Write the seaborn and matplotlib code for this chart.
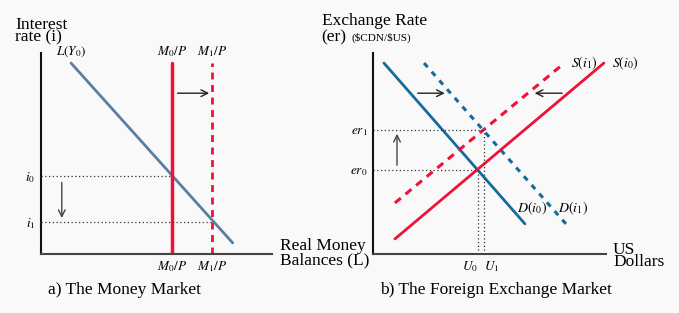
import matplotlib
matplotlib.use("Agg")
import matplotlib.pyplot as plt
import seaborn as sns

# ---------------- data ----------------
# Panel a) money market
L_x = [1.3, 8.3]
L_y = [9.5, 0.55]
M0 = 5.67
M1 = 7.40
i0 = 3.9
i1 = 1.6
money_ticks_x = [M0, M1]
money_ticklabels_x = [r"$M_0/P$", r"$M_1/P$"]
money_ticks_y = [i1, i0]
money_ticklabels_y = [r"$i_1$", r"$i_0$"]

# Panel b) foreign exchange market
D0_x = [0.47, 6.52]
D0_y = [9.5, 1.5]
D1_x = [2.19, 8.28]
D1_y = [9.5, 1.5]
S0_x = [0.94, 9.91]
S0_y = [0.75, 9.5]
S1_x = [0.94, 8.11]
S1_y = [2.54, 9.4]
er0 = 4.18
er1 = 6.17
U0 = 4.51
U1 = 4.76
fx_ticks_x = [U0, U1]
fx_ticklabels_x = [r"$U_0$", r"$U_1$"]
fx_ticks_y = [er0, er1]
fx_ticklabels_y = [r"$er_0$", r"$er_1$"]

# ---------------- style ----------------
sns.set_theme(style="white")
plt.rcParams["font.family"] = ["Liberation Serif", "DejaVu Serif"]
plt.rcParams["mathtext.fontset"] = "stix"
plt.rcParams["text.color"] = "black"
plt.rcParams["xtick.color"] = "black"
plt.rcParams["ytick.color"] = "black"

BG = "#f9f9f9"
RED = "#ee1238"
BLUE_D = "#166b9c"
BLUE_L = "#5a7ea4"
DOT = "#333333"

W, H = 679, 313
fig = plt.figure(figsize=(W / 100, H / 100), dpi=100, facecolor=BG)


def add_ax(x0, x1, ytop, ybot):
    return fig.add_axes([x0 / W, (H - ybot) / H, (x1 - x0) / W, (ybot - ytop) / H])


axa = add_ax(41, 272, 53, 254)
axb = add_ax(373, 606, 53, 254)

for ax in (axa, axb):
    ax.set_facecolor(BG)
    for s in ("top", "right"):
        ax.spines[s].set_visible(False)
    ax.spines["left"].set_color("#111111")
    ax.spines["left"].set_linewidth(1.5)
    ax.spines["bottom"].set_color("#444444")
    ax.spines["bottom"].set_linewidth(1.5)


def line(ax, xs, ys, color, lw, dashes=None):
    sns.lineplot(x=xs, y=ys, ax=ax, color=color, lw=lw, estimator=None,
                 sort=False, errorbar=None)
    if dashes is not None:
        ax.lines[-1].set_dashes(dashes)


# ---- panel a ----
line(axa, L_x, L_y, BLUE_L, 2)
line(axa, [M0, M0], [0, 9.5], RED, 2.5)
line(axa, [M1, M1], [0, 9.5], RED, 2, (2.5, 2))
axa.plot([0, M0], [i0, i0], color=DOT, lw=0.9, ls=(0, (1, 2)))
axa.plot([0, M1], [i1, i1], color=DOT, lw=0.9, ls=(0, (1, 2)))
axa.annotate("", xy=(M1, 8.0), xytext=(M0 + 0.12, 8.0),
             arrowprops=dict(arrowstyle="->", color="#222222", lw=1))
axa.annotate("", xy=(0.9, i1 + 0.05), xytext=(0.9, i0 - 0.2),
             arrowprops=dict(arrowstyle="->", color="#444444", lw=1))
axa.set_xticks(money_ticks_x, money_ticklabels_x, fontsize=9.5)
axa.set_yticks(money_ticks_y, money_ticklabels_y, fontsize=9.5)
axa.text(M0, 10.05, r"$M_0/P$", ha="center", va="center", fontsize=9.5)
axa.text(M1, 10.05, r"$M_1/P$", ha="center", va="center", fontsize=9.5)
axa.text(L_x[0], 10.05, r"$L(Y_0)$", ha="center", va="center", fontsize=9.5)

# ---- panel b ----
line(axb, D0_x, D0_y, BLUE_D, 2)
line(axb, D1_x, D1_y, BLUE_D, 2.2, (1.8, 2))
line(axb, S0_x, S0_y, RED, 2)
line(axb, S1_x, S1_y, RED, 2.2, (2.5, 2))
axb.plot([0, U1], [er1, er1], color=DOT, lw=0.9, ls=(0, (1, 2)))
axb.plot([0, U0], [er0, er0], color=DOT, lw=0.9, ls=(0, (1, 2)))
axb.plot([U0, U0], [0, er0], color=DOT, lw=0.9, ls=(0, (1, 2)))
axb.plot([U1, U1], [0, er1], color=DOT, lw=0.9, ls=(0, (1, 2)))
axb.annotate("", xy=(3.2, 8.0), xytext=(1.8, 8.0),
             arrowprops=dict(arrowstyle="->", color="#222222", lw=1))
axb.annotate("", xy=(6.82, 8.0), xytext=(8.24, 8.0),
             arrowprops=dict(arrowstyle="->", color="#222222", lw=1))
axb.annotate("", xy=(1.03, er1 - 0.05), xytext=(1.03, er0 + 0.1),
             arrowprops=dict(arrowstyle="->", color="#444444", lw=1))
axb.set_xticks(fx_ticks_x, fx_ticklabels_x, fontsize=9.5)
xl = axb.get_xticklabels()
xl[0].set_ha("right")
xl[1].set_ha("left")
axb.set_yticks(fx_ticks_y, fx_ticklabels_y, fontsize=9.5)
axb.text(8.5, 9.5, r"$S(i_1)$", ha="left", va="center", fontsize=10)
axb.text(10.25, 9.5, r"$S(i_0)$", ha="left", va="center", fontsize=10)
axb.text(6.2, 2.25, r"$D(i_0)$", ha="left", va="center", fontsize=10)
axb.text(7.95, 2.25, r"$D(i_1)$", ha="left", va="center", fontsize=10)

for ax in (axa, axb):
    ax.set_xlim(0, 10)
    ax.set_ylim(0, 10)
    ax.tick_params(length=0, pad=4, labelsize=9.5)
    ax.set_xlabel("")
    ax.set_ylabel("")


# ---- titles and axis captions (positions in pixels) ----
def ftext(x, y, s, fs=12.5, ls=1.0):
    fig.text(x / W, 1 - y / H, s, ha="left", va="top", fontsize=fs,
             linespacing=ls)


ftext(15, 17, "Interest\nrate (i)", ls=0.72)
ftext(322, 13, "Exchange Rate")
ftext(321, 29, "(er)")
ftext(351, 33, r"(\$CDN/\$US)", fs=8)
ftext(280, 238, "Real Money\nBalances (L)", ls=0.85)
ftext(613, 242, "US\nDollars", ls=0.66)
ftext(48, 282, "a) The Money Market")
ftext(380, 282, "b) The Foreign Exchange Market")

fig.savefig("out.png", dpi=100, facecolor=BG)
